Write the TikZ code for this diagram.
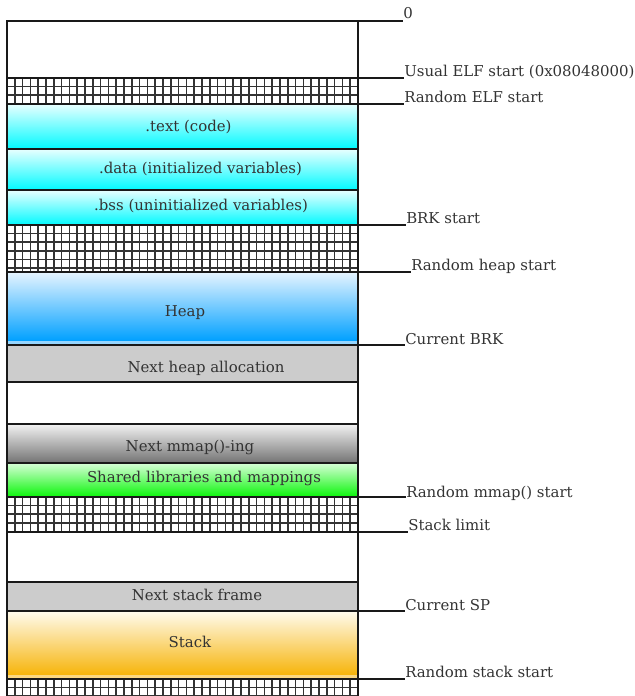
\documentclass[tikz,border=0pt]{standalone}
\usepackage{fontspec}
\setmainfont{DejaVu Serif}
\usetikzlibrary{positioning}
\pgfdeclarelayer{background}
\pgfsetlayers{background,main}

\begin{document}
\begin{tikzpicture}[
	x=0.75pt, y=-0.75pt,
	segtext/.style={font=\fontsize{11.2}{13}\selectfont, text=black!80, anchor=base, inner sep=0pt},
	addrlabel/.style={font=\fontsize{11.2}{13}\selectfont, text=black!80, anchor=base west, inner sep=0pt},
	leader/.style={draw=black!90, line width=1.4pt},
	frame/.style={draw=black!90, line width=1.4pt},
	hatch/.style={draw=black!80, line width=1.2pt, xstep=5.85pt, ystep=6.45pt},
	]
	\useasboundingbox (0,0) rectangle (635,696);

	%Nodes
	\node[segtext]   (text)      at (188.5,131)   {.text (code)};
	\node[segtext]   (data)      at (200.5,173)   {.data (initialized variables)};
	\node[segtext]   (bss)       at (201,210.5)   {.bss (uninitialized variables)};
	\node[segtext]   (heap)      at (185,316)     {Heap};
	\node[segtext]   (nextheap)  at (206,372)     {Next heap allocation};
	\node[segtext]   (nextmmap)  at (190,451)     {Next mmap()-ing};
	\node[segtext]   (shlib)     at (204,482.5)   {Shared libraries and mappings};
	\node[segtext]   (nextframe) at (197,600.5)   {Next stack frame};
	\node[segtext]   (stack)     at (190,647.5)   {Stack};

	%Addresses
	\node[addrlabel] (lzero)   at (403,18)     {0};
	\node[addrlabel] (lelf)    at (404,76.5)   {Usual ELF start (0x08048000)};
	\node[addrlabel] (lrelf)   at (404,102.5)  {Random ELF start};
	\node[addrlabel] (lbrk)    at (406,223.5)  {BRK start};
	\node[addrlabel] (lrheap)  at (411,270)    {Random heap start};
	\node[addrlabel] (lcurbrk) at (405,344.5)  {Current BRK};
	\node[addrlabel] (lrmmap)  at (406,497)    {Random mmap() start};
	\node[addrlabel] (lstklim) at (408,530)    {Stack limit};
	\node[addrlabel] (lcursp)  at (405,610.5)  {Current SP};
	\node[addrlabel] (lrstack) at (405,677.5)  {Random stack start};

	\coordinate (b0) at (358,21);
	\coordinate (b1) at (358,78);
	\coordinate (b2) at (358,104);
	\coordinate (b3) at (358,225);
	\coordinate (b4) at (358,272);
	\coordinate (b5) at (358,345);
	\coordinate (b6) at (358,497);
	\coordinate (b7) at (358,532);
	\coordinate (b8) at (358,611);
	\coordinate (b9) at (358,679);

	\begin{pgfonlayer}{background}
	\shade[top color={rgb,255:red,232;green,255;blue,255}, bottom color={rgb,255:red,0;green,250;blue,255}] (7,104) rectangle (358,149);
	\shade[top color={rgb,255:red,232;green,255;blue,255}, bottom color={rgb,255:red,0;green,250;blue,255}] (7,149) rectangle (358,190);
	\shade[top color={rgb,255:red,232;green,255;blue,255}, bottom color={rgb,255:red,0;green,250;blue,255}] (7,190) rectangle (358,225);
	\shade[top color={rgb,255:red,230;green,244;blue,255}, bottom color={rgb,255:red,0;green,160;blue,255}] (7,272) rectangle (358,341);
	\fill[fill={rgb,255:red,150;green,214;blue,255}] (7,341) rectangle (358,345);
	\fill[fill=black!20] (7,345) rectangle (358,382);
	\shade[top color=black!5, bottom color=black!55] (7,424) rectangle (358,463);
	\shade[top color={rgb,255:red,215;green,255;blue,215}, bottom color={rgb,255:red,10;green,245;blue,10}] (7,463) rectangle (358,497);
	\fill[fill=black!20] (7,582) rectangle (358,611);
	\shade[top color={rgb,255:red,255;green,251;blue,238}, bottom color={rgb,255:red,246;green,180;blue,10}] (7,611) rectangle (358,675);
	\fill[fill={rgb,255:red,250;green,215;blue,130}] (7,675) rectangle (358,679);
	\end{pgfonlayer}

	%Guard areas
	\foreach \ya/\yb in {78/104, 225/272, 497/532, 679/700}
		\draw[hatch, shift={(7,\ya)}] (0,0) grid (351,\yb-\ya);

	%Frame
	\draw[frame] (7,696) -- (7,21) -- (358,21) -- (358,696);
	\foreach \y in {78,104,149,190,225,272,345,382,424,463,497,532,582,611,679}
		\draw[frame] (7,\y) -- (358,\y);

	%Leaders
	\draw[leader] (b0) -- (b0 -| lzero.west);
	\draw[leader] (b1) -- (b1 -| lelf.west);
	\draw[leader] (b2) -- (b2 -| lrelf.west);
	\draw[leader] (b3) -- (b3 -| lbrk.west);
	\draw[leader] (b4) -- (b4 -| lrheap.west);
	\draw[leader] (b5) -- (b5 -| lcurbrk.west);
	\draw[leader] (b6) -- (b6 -| lrmmap.west);
	\draw[leader] (b7) -- (b7 -| lstklim.west);
	\draw[leader] (b8) -- (b8 -| lcursp.west);
	\draw[leader] (b9) -- (b9 -| lrstack.west);
\end{tikzpicture}
\end{document}
